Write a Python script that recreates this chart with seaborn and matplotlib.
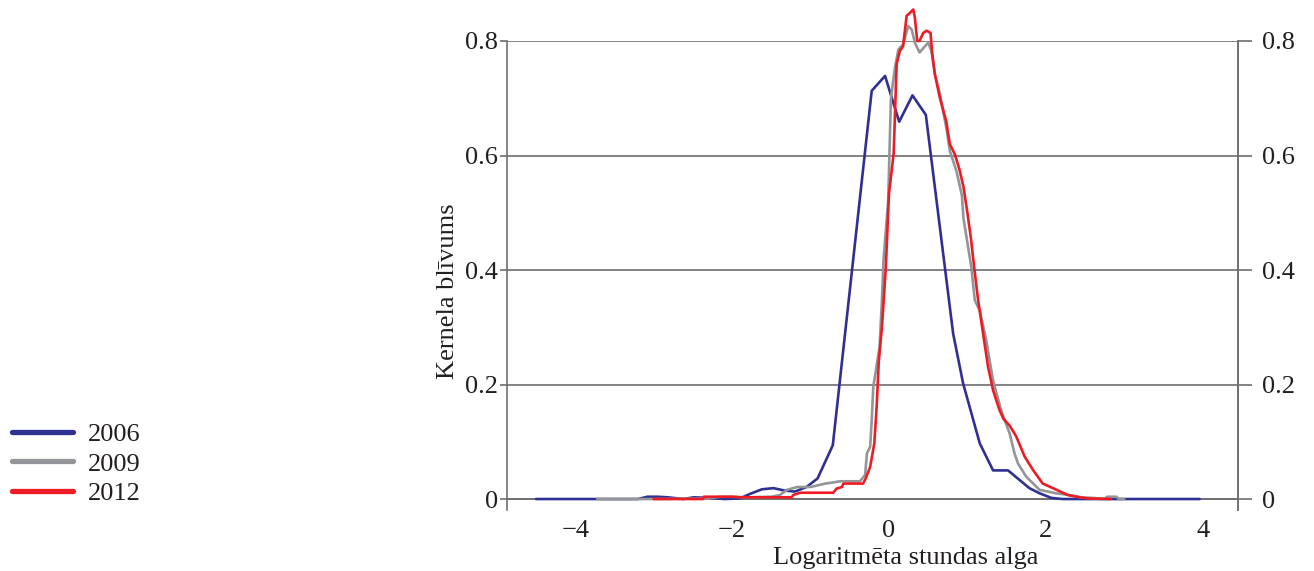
import matplotlib
matplotlib.use("Agg")
import matplotlib.pyplot as plt
import numpy as np
import pandas as pd
import seaborn as sns

# Kernel density of log hourly wage, three survey years
x_2006 = [-4.50, -3.20, -3.08, -2.95, -2.82, -2.62, -2.49, -2.30, -2.10, -1.90,
          -1.77, -1.62, -1.47, -1.34, -1.20, -1.05, -0.91, -0.716, -0.22, -0.05,
          0.13, 0.30, 0.47, 0.818, 0.945, 1.158, 1.327, 1.518, 1.667, 1.79,
          1.92, 2.07, 2.21, 3.96]
y_2006 = [0.0, 0.0, 0.004, 0.004, 0.003, 0.0, 0.003, 0.002, 0.0, 0.001,
          0.009, 0.017, 0.019, 0.015, 0.013, 0.021, 0.036, 0.094, 0.713, 0.739,
          0.659, 0.705, 0.671, 0.289, 0.202, 0.097, 0.050, 0.050, 0.033, 0.019,
          0.010, 0.002, 0.0, 0.0]

x_2009 = [-3.72, -3.00, -2.30, -2.15, -2.00, -1.80, -1.50, -1.39, -1.30, -1.17,
          -1.00, -0.81, -0.62, -0.37, -0.305, -0.28, -0.24, -0.22, -0.20, -0.12,
          -0.09, -0.07, -0.01, 0.025, 0.076, 0.12, 0.18, 0.245, 0.29, 0.33,
          0.39, 0.44, 0.50, 0.54, 0.585, 0.65, 0.73, 0.776, 0.86, 0.93,
          0.95, 1.05, 1.094, 1.158, 1.24, 1.327, 1.43, 1.54, 1.60, 1.645,
          1.75, 1.92, 2.13, 2.30, 2.45, 2.60, 2.75, 2.78, 2.90, 2.93, 3.00]
y_2009 = [0.0, 0.0, 0.001, 0.004, 0.004, 0.003, 0.004, 0.007, 0.016, 0.021,
          0.021, 0.027, 0.031, 0.031, 0.042, 0.080, 0.091, 0.138, 0.196, 0.265,
          0.347, 0.417, 0.521, 0.700, 0.753, 0.785, 0.794, 0.826, 0.820, 0.797,
          0.780, 0.788, 0.797, 0.783, 0.742, 0.707, 0.649, 0.608, 0.573, 0.530,
          0.490, 0.405, 0.347, 0.329, 0.277, 0.207, 0.155, 0.114, 0.080, 0.062,
          0.039, 0.016, 0.010, 0.007, 0.003, 0.002, 0.0, 0.004, 0.004, 0.0, 0.0]

x_2012 = [-3.00, -2.37, -2.36, -2.00, -1.90, -1.24, -1.22, -1.13, -0.71, -0.67,
          -0.60, -0.58, -0.33, -0.30, -0.24, -0.187, -0.157, -0.13, -0.09, -0.04,
          0.00, 0.06, 0.098, 0.14, 0.18, 0.225, 0.267, 0.31, 0.33, 0.36,
          0.39, 0.436, 0.48, 0.53, 0.55, 0.585, 0.65, 0.73, 0.776, 0.84,
          0.90, 0.95, 1.00, 1.045, 1.09, 1.137, 1.263, 1.327, 1.41, 1.46,
          1.54, 1.62, 1.73, 1.84, 1.96, 2.09, 2.28, 2.39, 2.53, 2.83]
y_2012 = [0.0, 0.0, 0.004, 0.004, 0.003, 0.003, 0.007, 0.011, 0.011, 0.018,
          0.021, 0.027, 0.027, 0.035, 0.056, 0.097, 0.161, 0.240, 0.300, 0.405,
          0.533, 0.604, 0.760, 0.783, 0.791, 0.844, 0.849, 0.855, 0.841, 0.800,
          0.800, 0.814, 0.818, 0.814, 0.780, 0.742, 0.700, 0.660, 0.620, 0.602,
          0.575, 0.545, 0.500, 0.455, 0.400, 0.347, 0.231, 0.190, 0.155, 0.140,
          0.128, 0.110, 0.074, 0.050, 0.027, 0.019, 0.007, 0.004, 0.001, 0.0]

years = ["2006", "2009", "2012"]
colors = ["#2e3192", "#939598", "#ed1c24"]

y_ticks = [0.0, 0.2, 0.4, 0.6, 0.8]
y_tick_labels = ["0", "0.2", "0.4", "0.6", "0.8"]
x_ticks = [-4, -2, 0, 2, 4]
x_tick_labels = ["\u22124", "\u22122", "0", "2", "4"]

frames = []
for yr, xs, ys in zip(years, [x_2006, x_2009, x_2012], [y_2006, y_2009, y_2012]):
    frames.append(pd.DataFrame({"x": xs, "y": ys, "year": yr}))
df = pd.concat(frames, ignore_index=True)

sns.set_theme(style="white")
plt.rcParams["font.family"] = ["Liberation Serif", "DejaVu Serif"]
plt.rcParams["font.size"] = 19

fig = plt.figure(figsize=(13.14, 5.71), dpi=100)
ax = fig.add_axes([0.3858, 0.1068, 0.5564, 0.8214])

grid_col = "#6d6e71"
text_col = "#231f20"
y_lim = (-0.0192, 0.8)

sns.lineplot(data=df, x="x", y="y", hue="year", palette=dict(zip(years, colors)),
             estimator=None, sort=False, linewidth=1.9, ax=ax, clip_on=False,
             legend=False, zorder=3)

ax.set_xlim(-4.87, 4.45)
ax.set_ylim(*y_lim)

ax.spines["top"].set_visible(False)
ax.spines["bottom"].set_position(("data", 0))
for s in ["left", "right", "bottom"]:
    ax.spines[s].set_color(grid_col)
    ax.spines[s].set_linewidth(1.2)

ax.set_yticks(y_ticks)
ax.set_yticklabels(y_tick_labels)
ax.set_xticks(x_ticks)
ax.set_xticklabels(x_tick_labels)
ax.tick_params(axis="y", direction="out", length=5, width=1.2, color=grid_col,
               labelsize=19, pad=1.5, labelcolor=text_col)
ax.tick_params(axis="x", direction="out", length=11, width=1.2, color=grid_col,
               labelsize=19, pad=4, labelcolor=text_col)
ax.yaxis.grid(True, color=grid_col, linewidth=1.2)
ax.xaxis.grid(False)
ax.set_axisbelow(True)

# duplicate density scale on the right-hand side
ax_r = ax.twinx()
ax_r.set_ylim(*y_lim)
ax_r.set_yticks(y_ticks)
ax_r.set_yticklabels(y_tick_labels)
ax_r.tick_params(axis="y", direction="out", length=10, width=1.2, color=grid_col,
                 labelsize=19, pad=7, labelcolor=text_col)
for s in ["top", "left", "bottom"]:
    ax_r.spines[s].set_visible(False)
ax_r.spines["right"].set_color(grid_col)
ax_r.spines["right"].set_linewidth(1.2)
ax_r.grid(False)

ax.set_xlabel("Logaritm\u0113ta stundas alga", fontsize=19, color=text_col)
ax.xaxis.set_label_coords(0.545, -0.079)
ax.set_ylabel("Kernela bl\u012bvums", fontsize=19, color=text_col)
ax.yaxis.set_label_coords(-0.0655, 0.466)

handles = [plt.Line2D([], [], color=c, linewidth=3.8) for c in colors]
fig.legend(handles, years, loc="upper left", bbox_to_anchor=(0.009, 0.26),
           frameon=False, fontsize=19, handlelength=2.3, handletextpad=0.6,
           labelspacing=0.23, borderaxespad=0.0, borderpad=0.0,
           labelcolor=text_col)

fig.savefig("out.png", dpi=100)
